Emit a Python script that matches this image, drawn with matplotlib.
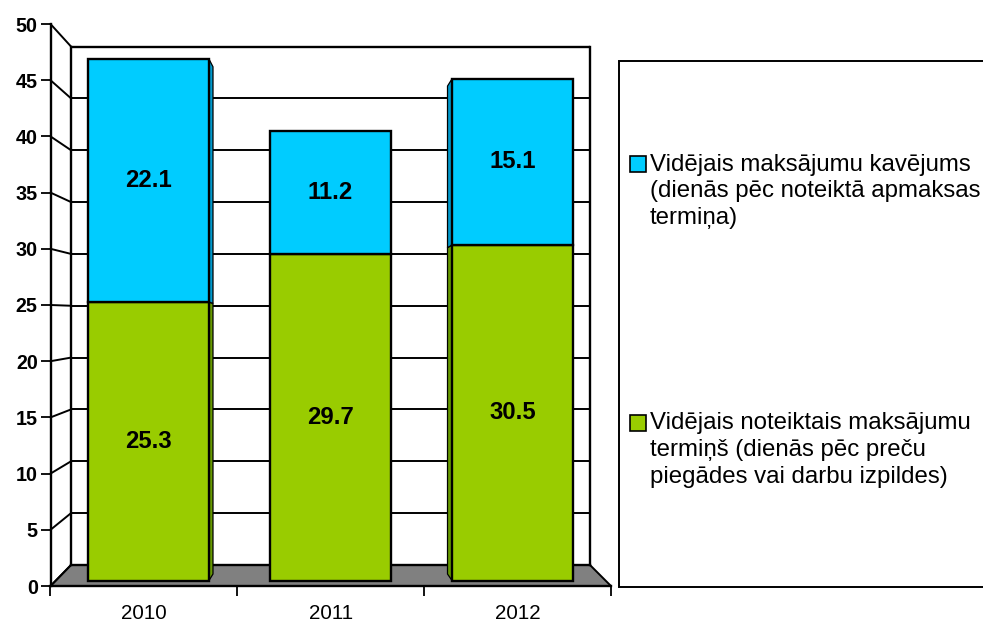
import matplotlib
matplotlib.use("Agg")
import matplotlib.pyplot as plt
from matplotlib.patches import Polygon, Rectangle, ConnectionPatch

plt.rcParams['font.family'] = ['Liberation Sans', 'DejaVu Sans']

W, H = 983, 624
years = ['2010', '2011', '2012']
term = [25.3, 29.7, 30.5]
delay = [22.1, 11.2, 15.1]
yticks = list(range(0, 55, 5))
label_term = 'Vidējais noteiktais maksājumu\ntermiņš (dienās pēc preču\npiegādes vai darbu izpildes)'
label_delay = 'Vidējais maksājumu kavējums\n(dienās pēc noteiktā apmaksas\ntermiņa)'
GREEN, GREEN_D = '#99CC00', '#669900'
BLUE, BLUE_D = '#00CCFF', '#0099CC'
FLOOR = '#808080'
BAR_W = 0.665
LW = 1.7

fig = plt.figure(figsize=(W / 100, H / 100), dpi=100, facecolor='white')


def plane(x0, x1, ybot, ytop, xlim=(-0.5, 2.5), ylim=(0, 50), z=1):
    a = fig.add_axes([x0 / W, 1 - ybot / H, (x1 - x0) / W, (ybot - ytop) / H], zorder=z)
    a.set_xlim(*xlim)
    a.set_ylim(*ylim)
    a.patch.set_alpha(0)
    for s in a.spines.values():
        s.set_visible(False)
    a.set_xticks([])
    a.set_yticks([])
    return a


# planes at different depths of the pseudo-3D box
front = plane(50.5, 611, 586, 24, z=1)
wall = plane(71, 590, 565, 46.5, z=2)
back = plane(66.75, 593.75, 574, 39, z=3)
bars = plane(57.5, 603.5, 580.5, 30.5, z=4)

# axis, ticks
front.spines['left'].set(visible=True, linewidth=LW, color='black')
front.spines['bottom'].set(visible=True, linewidth=LW, color='black')
front.set_yticks(yticks)
front.tick_params(axis='y', length=7.2, width=1.3, pad=2, labelsize=14.2)
for t in front.get_yticklabels():
    t.set_fontweight('bold')
front.set_xticks([-0.5, 0.5, 1.5, 2.5])
front.set_xticklabels([])
front.tick_params(axis='x', length=7.2, width=1.3)
front.set_xticks(range(3), minor=True)
front.set_xticklabels(years, minor=True)
front.tick_params(axis='x', which='minor', length=0, pad=13, labelsize=14.8)


def connect(y):
    fig.add_artist(ConnectionPatch((-0.5, y), (-0.5, y), 'data', 'data', axesA=front, axesB=wall,
                                   color='black', lw=1.4, zorder=0.5))


inv = fig.transFigure.inverted()
pts = [front.transData.transform((-0.5, 0)), front.transData.transform((2.5, 0)),
       wall.transData.transform((2.5, 0)), wall.transData.transform((-0.5, 0))]
fig.add_artist(Polygon(inv.transform(pts), closed=True, transform=fig.transFigure, facecolor=FLOOR,
                       edgecolor='black', lw=1.4, zorder=0.4))

# back wall and grid
for y in yticks[1:]:
    wall.plot([-0.5, 2.5], [y, y], color='black', lw=LW if y == 50 else 1.4, zorder=1,
              solid_capstyle='butt', clip_on=False)
    connect(y)
wall.plot([-0.5, -0.5], [0, 50], color='black', lw=LW, clip_on=False)
wall.plot([2.5, 2.5], [0, 50], color='black', lw=LW, clip_on=False)
wall.plot([-0.5, 2.5], [0, 0], color='black', lw=LW, clip_on=False)
connect(0)

# bars: side faces, then front faces
tot = [a + b for a, b in zip(term, delay)]
for idx, sgn in ((0, 1), (2, -1)):
    xf = idx + sgn * BAR_W / 2
    for lo, hi, col in ((0, term[idx], GREEN_D), (term[idx], tot[idx], BLUE_D)):
        p = [bars.transData.transform((xf, lo)), bars.transData.transform((xf, hi)),
             back.transData.transform((xf, hi)), back.transData.transform((xf, lo))]
        bars.add_patch(Polygon(bars.transData.inverted().transform(p), closed=True, facecolor=col,
                               edgecolor='black', lw=0.9, clip_on=False, zorder=2))

bars.bar(range(3), term, width=BAR_W, color=GREEN, edgecolor='black', linewidth=LW, zorder=3, clip_on=False)
bars.bar(range(3), delay, bottom=term, width=BAR_W, color=BLUE, edgecolor='black', linewidth=LW, zorder=3, clip_on=False)
for i in range(3):
    bars.text(i, term[i] / 2, f'{term[i]:.1f}', ha='center', va='center', fontsize=17.2, fontweight='bold', zorder=5)
    bars.text(i, term[i] + delay[i] / 2, f'{delay[i]:.1f}', ha='center', va='center', fontsize=17.2, fontweight='bold', zorder=5)

# legend panel (open on the right, runs past the edge of the figure)
leg = fig.add_axes([0, 0, 1, 1], zorder=6)
leg.set_xlim(0, W)
leg.set_ylim(H, 0)
leg.axis('off')
leg.patch.set_alpha(0)
leg.plot([983, 618.5, 618.5, 983], [60.5, 60.5, 586.5, 586.5], color='black', lw=1.4, solid_joinstyle='miter')
for ytop, col, lab in ((155.5, BLUE, label_delay), (414.5, GREEN, label_term)):
    leg.add_patch(Rectangle((630, ytop), 16, 16, facecolor=col, edgecolor='black', lw=1.2))
    leg.text(650, ytop - 2, lab, ha='left', va='top', fontsize=17.3, linespacing=1.29, clip_on=False)

fig.savefig('out.png', dpi=100)
